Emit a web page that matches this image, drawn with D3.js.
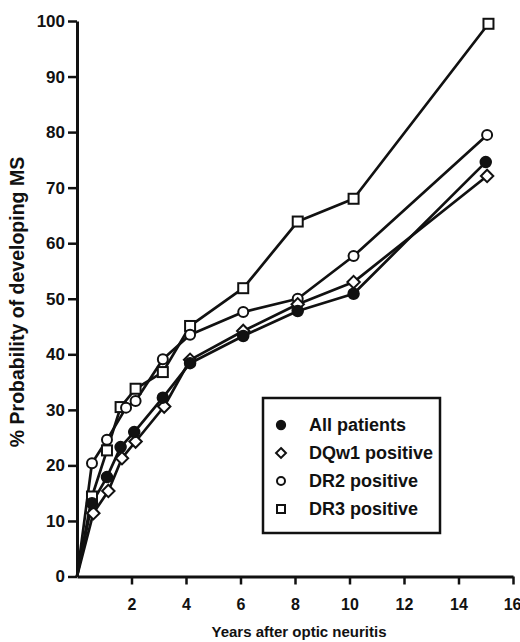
<!DOCTYPE html>
<html>
<head>
<meta charset="utf-8">
<script src="https://cdn.jsdelivr.net/npm/d3@7"></script>
<style>
  body { margin: 0; background: #fff; }
  svg { display: block; }
  text { font-family: "Liberation Sans", Arial, sans-serif; font-weight: bold; fill: #111; }
</style>
</head>
<body>
<div id="chart"></div>
<script>
// values (years, % probability)
var allYears  = [0, 0.55, 1.1, 1.6, 2.1, 3.15, 4.15, 6.1, 8.1, 10.15, 15];
var allValues = [0, 13.2, 17.9, 23.3, 26.0, 32.2, 38.4, 43.3, 47.8, 50.9, 74.6];
var dqYears   = [0, 0.6, 1.15, 1.65, 2.15, 3.2, 4.15, 6.1, 8.1, 10.15, 15.05];
var dqValues  = [0, 11.4, 15.4, 21.3, 24.3, 30.6, 39.0, 44.2, 49.0, 53.0, 72.1];
var dr2Years  = [0, 0.55, 1.1, 1.8, 2.15, 3.15, 4.15, 6.1, 8.1, 10.15, 15.05];
var dr2Values = [0, 20.4, 24.6, 30.4, 31.6, 39.1, 43.5, 47.6, 50.0, 57.7, 79.5];
var dr3Years  = [0, 0.55, 1.1, 1.6, 2.15, 3.15, 4.15, 6.1, 8.1, 10.15, 15.1];
var dr3Values = [0, 14.4, 22.7, 30.5, 33.8, 36.8, 45.1, 51.9, 63.9, 68.0, 99.5];

var seriesNames = ["All patients", "DQw1 positive", "DR2 positive", "DR3 positive"];
var seriesShapes = ["dot", "diamond", "circle", "square"];
var xTicks = [2, 4, 6, 8, 10, 12, 14, 16];
var yTicks = [0, 10, 20, 30, 40, 50, 60, 70, 80, 90, 100];

var width = 520, height = 642;

var svg = d3.select("#chart").append("svg")
    .attr("width", width)
    .attr("height", height);

var x = d3.scaleLinear().domain([0, 16]).range([77, 513]);
var y = d3.scaleLinear().domain([0, 100]).range([576.5, 21]);

function makeSeries(years, values) {
    return years.map(function(d, i) { return {x: d, y: values[i]}; });
}

var series = [
    makeSeries(allYears, allValues),
    makeSeries(dqYears, dqValues),
    makeSeries(dr2Years, dr2Values),
    makeSeries(dr3Years, dr3Values)
];

function drawMarker(g, shape, cx, cy, s) {
    if (shape == "dot") {
        g.append("circle").attr("cx", cx).attr("cy", cy).attr("r", s * 0.55)
            .attr("fill", "#111").attr("stroke", "#111").attr("stroke-width", 1.5);
    } else if (shape == "circle") {
        g.append("circle").attr("cx", cx).attr("cy", cy).attr("r", s * 0.5)
            .attr("fill", "#fff").attr("stroke", "#111").attr("stroke-width", 2);
    } else if (shape == "square") {
        g.append("rect").attr("x", cx - s / 2).attr("y", cy - s / 2)
            .attr("width", s).attr("height", s)
            .attr("fill", "#fff").attr("stroke", "#111").attr("stroke-width", 2);
    } else if (shape == "diamond") {
        var h = s * 0.62;
        g.append("path")
            .attr("d", "M" + cx + "," + (cy - h) + "L" + (cx + h) + "," + cy +
                       "L" + cx + "," + (cy + h) + "L" + (cx - h) + "," + cy + "Z")
            .attr("fill", "#fff").attr("stroke", "#111").attr("stroke-width", 2);
    }
}

function drawAxes() {
    var yAxis = d3.axisLeft(y).tickValues(yTicks).tickSize(9).tickSizeOuter(0).tickPadding(3);
    var gy = svg.append("g").attr("transform", "translate(77,0)").call(yAxis);
    gy.select(".domain").attr("stroke", "#111").attr("stroke-width", 3);
    gy.selectAll(".tick line").attr("stroke", "#111").attr("stroke-width", 2.5);
    gy.selectAll(".tick text").style("font-size", "17px").attr("fill", "#111");

    var xAxis = d3.axisBottom(x).tickValues(xTicks).tickSize(8).tickSizeOuter(0).tickPadding(14);
    var gx = svg.append("g").attr("transform", "translate(0,576.5)").call(xAxis);
    gx.select(".domain").attr("stroke", "#111").attr("stroke-width", 3);
    gx.selectAll(".tick line").attr("stroke", "#111").attr("stroke-width", 2.5);
    gx.selectAll(".tick text").style("font-size", "16px").attr("fill", "#111");
    // last label sits against the right edge
    gx.selectAll(".tick text").filter(function(d) { return d == 16; })
        .attr("text-anchor", "end").attr("dx", "8");

    svg.append("text")
        .attr("x", 299).attr("y", 637)
        .attr("text-anchor", "middle")
        .style("font-size", "15px")
        .text("Years after optic neuritis");

    svg.append("text")
        .attr("transform", "translate(24,302) rotate(-90)")
        .attr("text-anchor", "middle")
        .style("font-size", "19.5px")
        .text("% Probability of developing MS");
}

function drawSeries() {
    var line = d3.line()
        .x(function(d) { return x(d.x); })
        .y(function(d) { return y(d.y); });

    for (var i = series.length - 1; i >= 0; i--) {
        svg.append("path")
            .datum(series[i])
            .attr("d", line)
            .attr("fill", "none")
            .attr("stroke", "#111")
            .attr("stroke-width", 2.7)
            .attr("stroke-linejoin", "round");
    }

    for (var i = series.length - 1; i >= 0; i--) {
        var g = svg.append("g");
        for (var j = 1; j < series[i].length; j++) {
            drawMarker(g, seriesShapes[i], x(series[i][j].x), y(series[i][j].y), 10);
        }
    }
}

function drawLegend() {
    var g = svg.append("g");
    g.append("rect")
        .attr("x", 263).attr("y", 398)
        .attr("width", 177).attr("height", 135)
        .attr("fill", "#fff")
        .attr("stroke", "#111")
        .attr("stroke-width", 2.5);

    for (var i = 0; i < seriesNames.length; i++) {
        var cy = 425 + i * 28;
        drawMarker(g, seriesShapes[i], 281, cy, 8);
        g.append("text")
            .attr("x", 309).attr("y", cy + 6)
            .style("font-size", "18px")
            .text(seriesNames[i]);
    }
}

drawAxes();
drawSeries();
drawLegend();
</script>
</body>
</html>
